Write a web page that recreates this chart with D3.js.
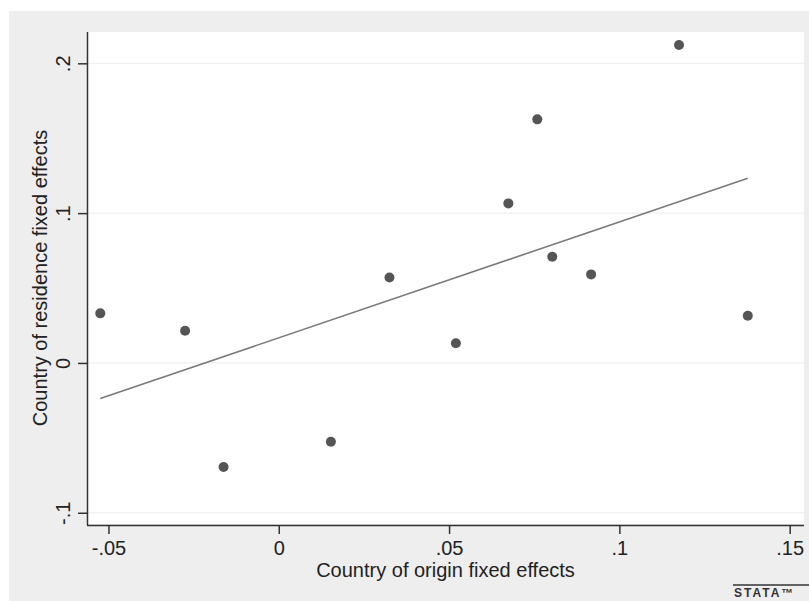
<!DOCTYPE html>
<html>
<head>
<meta charset="utf-8">
<script src="https://cdn.jsdelivr.net/npm/d3@7"></script>
<style>
  body { margin: 0; background: #fff; }
  text { font-family: "Liberation Sans", Arial, sans-serif; fill: #222; }
</style>
</head>
<body>
<div id="chart"></div>
<script>
// origin fixed effects (x) and residence fixed effects (y), one per country
const originFE = [-0.0524, -0.0275, -0.0162, 0.0153, 0.0325, 0.0520, 0.0674, 0.0759, 0.0803, 0.0917, 0.1175, 0.1377];
const residenceFE = [0.0331, 0.0215, -0.0695, -0.0526, 0.0570, 0.0131, 0.1065, 0.1626, 0.0709, 0.0591, 0.2122, 0.0315];
const xTicks = [-0.05, 0, 0.05, 0.1, 0.15];
const yTicks = [-0.1, 0, 0.1, 0.2];

const width = 809, height = 601;
const plot = {left: 87, right: 804, top: 32, bottom: 524};

const svg = d3.select("#chart").append("svg")
    .attr("width", width).attr("height", height);

// stata-ish gray graph region
svg.append("rect").attr("x", 9).attr("y", 11)
    .attr("width", width - 9).attr("height", height - 11)
    .attr("fill", "#eeeeee");
svg.append("rect").attr("x", plot.left).attr("y", plot.top)
    .attr("width", plot.right - plot.left).attr("height", plot.bottom - plot.top)
    .attr("fill", "#fff");

const x = d3.scaleLinear().domain([-0.0563, 0.1542]).range([plot.left, plot.right]);
const y = d3.scaleLinear().domain([-0.1075, 0.2209]).range([plot.bottom, plot.top]);

// stata style labels: .05, -.1, 0 (plain hyphen)
const fmt = v => v === 0 ? "0" : String(+v.toFixed(2)).replace("0.", ".");

// grid
svg.append("g").selectAll("line").data(yTicks).enter().append("line")
    .attr("x1", plot.left).attr("x2", plot.right)
    .attr("y1", d => y(d)).attr("y2", d => y(d))
    .attr("stroke", "#ececec").attr("stroke-width", 1);

// axes
const xAxis = svg.append("g").attr("transform", `translate(0,${plot.bottom + 1})`)
    .call(d3.axisBottom(x).tickValues(xTicks).tickSize(9).tickPadding(7).tickFormat(fmt));
const yAxis = svg.append("g").attr("transform", `translate(${plot.left},0)`)
    .call(d3.axisLeft(y).tickValues(yTicks).tickSize(9).tickPadding(0).tickFormat(fmt));

[xAxis, yAxis].forEach(a => {
  a.select(".domain").attr("stroke", "#333").attr("stroke-width", 1.5);
  a.selectAll(".tick line").attr("stroke", "#333").attr("stroke-width", 1.5);
  a.selectAll("text").attr("font-size", 20).attr("fill", "#222")
      .attr("font-family", "Liberation Sans, Arial, sans-serif");
});
xAxis.select(".domain").attr("d", `M${plot.left},0.5H${plot.right}`);
yAxis.select(".domain").attr("d", `M0.5,${plot.top}V${plot.bottom + 1}`);

yAxis.selectAll(".tick text")
    .attr("x", null).attr("dy", null)
    .attr("text-anchor", "middle")
    .attr("transform", "translate(-17,0) rotate(-90)");

// fitted line (OLS of residence on origin)
const mx = d3.mean(originFE), my = d3.mean(residenceFE);
const slope = d3.sum(originFE, (v, i) => (v - mx) * (residenceFE[i] - my)) /
              d3.sum(originFE, v => (v - mx) * (v - mx));
const icpt = my - slope * mx;
const ends = d3.extent(originFE);
svg.append("path")
    .datum(ends)
    .attr("d", d3.line().x(d => x(d)).y(d => y(icpt + slope * d)))
    .attr("stroke", "#7a7a7a").attr("stroke-width", 1.6).attr("fill", "none");

// points
svg.append("g").selectAll("circle").data(originFE).enter().append("circle")
    .attr("cx", d => x(d)).attr("cy", (d, i) => y(residenceFE[i]))
    .attr("r", 5).attr("fill", "#555");

// titles
svg.append("text").attr("x", (plot.left + plot.right) / 2).attr("y", 577)
    .attr("text-anchor", "middle").attr("font-size", 20)
    .text("Country of origin fixed effects");
svg.append("text")
    .attr("transform", `translate(47,${(plot.top + plot.bottom) / 2}) rotate(-90)`)
    .attr("text-anchor", "middle").attr("font-size", 20)
    .text("Country of residence fixed effects");

// stata mark
svg.append("line").attr("x1", 733).attr("x2", 809).attr("y1", 585).attr("y2", 585)
    .attr("stroke", "#333").attr("stroke-width", 1.5);
svg.append("text").attr("x", 734).attr("y", 597)
    .attr("font-family", "DejaVu Sans Mono, monospace").attr("font-size", 12)
    .attr("font-weight", "bold").attr("letter-spacing", 2).style("fill", "#333")
    .text("STATA™");
</script>
</body>
</html>
